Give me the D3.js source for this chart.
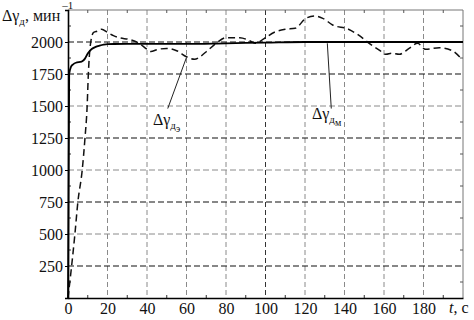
<!DOCTYPE html>
<html>
<head>
<meta charset="utf-8">
<script src="https://cdn.jsdelivr.net/npm/d3@7"></script>
<style>
  body { margin: 0; background: #fff; }
  svg text { font-family: "Liberation Serif", "DejaVu Serif", serif; fill: #111; }
</style>
</head>
<body>
<div id="chart"></div>
<script>
// data
var xTicks = [0, 20, 40, 60, 80, 100, 120, 140, 160, 180];
var yTicks = [250, 500, 750, 1000, 1250, 1500, 1750, 2000];
var darkRows = [250, 750, 1250, 1750, 2000];

// experimental speed (dashed)
var expT = [0, 3.5, 5, 7.2, 8.6, 9.7, 10.3, 12, 13, 15, 17, 20, 23, 26, 31, 36, 40, 42, 45, 50, 55, 60, 64, 70, 75, 80, 87, 92, 95, 99.5, 104.5, 110, 115, 120.5, 125, 129, 134, 142, 147, 152.5, 157.6, 161, 164, 167.7, 172.7, 177, 181, 188, 194.6, 199];
var expV = [0, 500, 750, 1000, 1250, 1500, 1750, 2040, 2075, 2085, 2100, 2075, 2050, 2033, 2020, 1990, 1943, 1925, 1940, 1950, 1932, 1885, 1865, 1924, 1990, 2034, 2034, 2010, 1990, 2029, 2076, 2099, 2107, 2185, 2203, 2185, 2133, 2100, 2055, 1990, 1937, 1904, 1912, 1904, 1950, 1990, 1943, 1955, 1932, 1872];

// model speed (solid)
var modT = [0, 0.6, 1.5, 2.6, 4, 6.9, 8.6, 10, 12, 14, 16, 18, 20, 30, 40, 60, 80, 100, 120, 150, 200];
var modV = [0, 1750, 1805, 1825, 1838, 1846, 1870, 1910, 1945, 1962, 1972, 1980, 1984, 1985, 1985, 1985, 1990, 1995, 2000, 2000, 2000];

var serif = "'Liberation Serif', 'DejaVu Serif', serif";

var svgWidth = 474;
var svgHeight = 320;
var margin = {top: 10, right: 11, bottom: 22, left: 68};
var width = svgWidth - margin.left - margin.right;
var height = svgHeight - margin.top - margin.bottom;

var svg = d3.select("#chart")
  .append("svg")
  .attr("width", svgWidth)
  .attr("height", svgHeight)
  .attr("font-family", serif);

var chartGroup = svg.append("g")
  .attr("transform", `translate(${margin.left}, ${margin.top})`);

var x = d3.scaleLinear().domain([0, 200]).range([0, width]);
var y = d3.scaleLinear().domain([0, 2250]).range([height, 0]);

// grid
chartGroup.selectAll(".vgrid")
  .data(xTicks.filter(d => d > 0))
  .enter().append("line")
  .attr("x1", d => x(d)).attr("x2", d => x(d))
  .attr("y1", 0).attr("y2", height)
  .attr("stroke", d => d === 100 ? "#333" : "#8a8a8a")
  .attr("stroke-width", 1)
  .attr("stroke-dasharray", "5,3");

chartGroup.selectAll(".hgrid")
  .data(yTicks)
  .enter().append("line")
  .attr("x1", 0).attr("x2", width)
  .attr("y1", d => y(d)).attr("y2", d => y(d))
  .attr("stroke", d => darkRows.indexOf(d) >= 0 ? "#111" : "#8a8a8a")
  .attr("stroke-width", d => darkRows.indexOf(d) >= 0 ? 1.2 : 1)
  .attr("stroke-dasharray", "6,3");

// frame: top and right thin
chartGroup.append("line")
  .attr("x1", 0).attr("x2", width).attr("y1", 0).attr("y2", 0)
  .attr("stroke", "#777").attr("stroke-width", 1);
chartGroup.append("line")
  .attr("x1", width).attr("x2", width).attr("y1", 0).attr("y2", height)
  .attr("stroke", "#777").attr("stroke-width", 1);

// minor ticks
var minorX = d3.range(10, 200, 20);
var minorY = d3.range(125, 2250, 250);
chartGroup.selectAll(".mxb").data(minorX).enter().append("line")
  .attr("x1", d => x(d)).attr("x2", d => x(d))
  .attr("y1", height).attr("y2", height - 3)
  .attr("stroke", "#333");
chartGroup.selectAll(".mxt").data(minorX).enter().append("line")
  .attr("x1", d => x(d)).attr("x2", d => x(d))
  .attr("y1", 0).attr("y2", 3)
  .attr("stroke", "#555");
chartGroup.selectAll(".myl").data(minorY).enter().append("line")
  .attr("x1", 0).attr("x2", 3)
  .attr("y1", d => y(d)).attr("y2", d => y(d))
  .attr("stroke", "#333");
chartGroup.selectAll(".myr").data(minorY).enter().append("line")
  .attr("x1", width).attr("x2", width - 3)
  .attr("y1", d => y(d)).attr("y2", d => y(d))
  .attr("stroke", "#555");

// axes
var bottomAxis = d3.axisBottom(x).tickValues(xTicks).tickFormat(d3.format("d")).tickSize(0).tickPadding(5);
var leftAxis = d3.axisLeft(y).tickValues(yTicks).tickFormat(d3.format("d")).tickSize(3).tickPadding(2);

var xAxis = chartGroup.append("g")
  .attr("transform", `translate(0, ${height})`)
  .call(bottomAxis);
var yAxis = chartGroup.append("g").call(leftAxis);

[xAxis, yAxis].forEach(function(g) {
  g.attr("font-family", serif).attr("font-size", 16);
  g.select(".domain").attr("stroke", "#000").attr("stroke-width", 1.6);
  g.selectAll("text").attr("fill", "#111");
  g.selectAll(".tick line").attr("stroke", "#000");
});
yAxis.selectAll("text").attr("dy", "0.35em");

// lines
var expData = expT.map((t, i) => [t, expV[i]]);
var modData = modT.map((t, i) => [t, modV[i]]);

var line = d3.line()
  .x(d => x(d[0]))
  .y(d => y(d[1]))
  .curve(d3.curveMonotoneX);

chartGroup.append("path")
  .datum(expData)
  .attr("d", line)
  .attr("fill", "none")
  .attr("stroke", "#111")
  .attr("stroke-width", 1.5)
  .attr("stroke-dasharray", "7,4");

chartGroup.append("path")
  .datum(modData)
  .attr("d", line)
  .attr("fill", "none")
  .attr("stroke", "#000")
  .attr("stroke-width", 1.8);

// leader lines
chartGroup.append("line")
  .attr("x1", x(50.5)).attr("y1", y(1480))
  .attr("x2", x(60)).attr("y2", y(1880))
  .attr("stroke", "#222").attr("stroke-width", 1);
chartGroup.append("line")
  .attr("x1", x(133.3)).attr("y1", y(1480))
  .attr("x2", x(131.3)).attr("y2", y(1990))
  .attr("stroke", "#222").attr("stroke-width", 1);

// annotations
function gammaLabel(tx, vy, last) {
  var t = chartGroup.append("text")
    .attr("x", x(tx)).attr("y", y(vy))
    .attr("font-size", 16);
  t.append("tspan").text("Δγ");
  t.append("tspan").attr("dy", 4).attr("font-size", 11).text("д");
  t.append("tspan").attr("dy", 3).attr("font-size", 10).text(last);
}
gammaLabel(43, 1355, "э");
gammaLabel(123.5, 1395, "м");

// axis titles
var yTitle = svg.append("text")
  .attr("x", 2).attr("y", 21)
  .attr("font-size", 16);
yTitle.append("tspan").text("Δγ");
yTitle.append("tspan").attr("dy", 4).attr("font-size", 11).text("д");
yTitle.append("tspan").attr("dy", -4).text(", мин");
yTitle.append("tspan").attr("dy", -12).attr("dx", 2).attr("font-size", 11).text("–1");

var xTitle = svg.append("text")
  .attr("x", 449).attr("y", 313)
  .attr("font-size", 16);
xTitle.append("tspan").attr("font-style", "italic").text("t");
xTitle.append("tspan").text(", с");
</script>
</body>
</html>
